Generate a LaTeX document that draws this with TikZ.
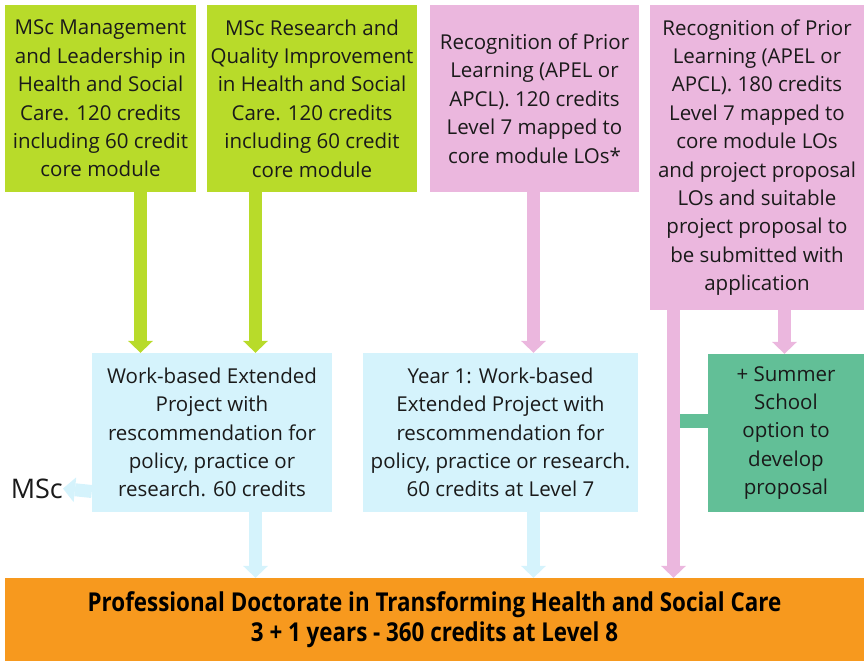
\documentclass[tikz,border=0pt]{standalone}
\usepackage{fontspec}
\setmainfont{Open Sans}
\newfontfamily\titlefont[FakeStretch=0.86]{Open Sans}
\usetikzlibrary{arrows.meta}
\definecolor{cGreen}{HTML}{B8DB2A}
\definecolor{cPink}{HTML}{EBB7DE}
\definecolor{cBlue}{HTML}{D5F3FC}
\definecolor{cTeal}{HTML}{62BF97}
\definecolor{cOrange}{HTML}{F7991E}
\definecolor{cText}{HTML}{1A1A1A}
\begin{document}
\begin{tikzpicture}[x=1pt,y=-1pt,
  box/.style={rectangle, inner sep=0pt, align=center, text=cText,
    font=\fontsize{20.5}{28.4}\selectfont},
  fat/.style={line width=13pt, -{Triangle[width=25pt,length=12pt,line width=0pt]}},
  garrow/.style={fat, draw=cGreen, color=cGreen},
  parrow/.style={fat, draw=cPink, color=cPink},
  barrow/.style={fat, draw=cBlue, color=cBlue}]
\useasboundingbox (0,0) rectangle (867,661);
\node[box, fill=cGreen, minimum width=191pt, minimum height=187pt] (g1) at (100.5,98.5)
  {MSc Management\\and Leadership in\\Health and Social\\Care. 120 credits\\including 60 credit\\core module};
\node[box, fill=cGreen, minimum width=210pt, minimum height=187pt] (g2) at (312,98.5)
  {MSc Research and\\Quality Improvement\\in Health and Social\\Care. 120 credits\\including 60 credit\\core module};
\node[box, fill=cPink, minimum width=209pt, minimum height=187pt] (p1) at (534.5,98.5)
  {Recognition of Prior\\Learning (APEL or\\APCL). 120 credits\\Level 7 mapped to\\core module LOs*};
\node[box, fill=cPink, minimum width=214pt, minimum height=305pt] (p2) at (757,157.5)
  {Recognition of Prior\\Learning (APEL or\\APCL). 180 credits\\Level 7 mapped to\\core module LOs\\and project proposal\\LOs and suitable\\project proposal to\\be submitted with\\application};
\node[box, fill=cBlue, minimum width=240pt, minimum height=159pt] (b1) at (212,432.5)
  {Work-based Extended\\Project with\\rescommendation for\\policy, practice or\\research. 60 credits};
\node[box, fill=cBlue, minimum width=275pt, minimum height=159pt] (b2) at (500.5,432.5)
  {Year 1: Work-based\\Extended Project with\\rescommendation for\\policy, practice or research.\\60 credits at Level 7};
\node[box, fill=cTeal, minimum width=156pt, minimum height=158pt] (s) at (786,433)
  {+ Summer\\School\\option to\\develop\\proposal};
\node[box, fill=cOrange, minimum width=859pt, minimum height=83pt,
  font=\titlefont\bfseries\fontsize{26}{30}\selectfont, text=black] (o) at (434.5,619.5)
  {Professional Doctorate in Transforming Health and Social Care\\3 + 1 years - 360 credits at Level 8};
\node[anchor=east, inner sep=0pt, text=cText, font=\fontsize{27}{30}\selectfont] (msc) at (63,488.5) {MSc};
% arrows
\draw[garrow] (g1.south -| 140.5,0) -- (b1.north -| 140.5,0);
\draw[garrow] (g2.south -| 255.5,0) -- (b1.north -| 255.5,0);
\draw[parrow] (p1.south -| 533.5,0) -- (b2.north -| 533.5,0);
\draw[parrow] (p2.south -| 784.5,0) -- (s.north -| 784.5,0);
\coordinate (shaft) at (673.5,420.5);
\draw[cTeal, line width=14pt] (s.west |- shaft) -- (shaft);
\draw[parrow] (p2.south -| 673.5,0) -- (o.north -| 673.5,0);
\draw[barrow] (b1.south -| 255.5,0) -- (o.north -| 255.5,0);
\draw[barrow] (b2.south -| 533.5,0) -- (o.north -| 533.5,0);
\draw[barrow] (b1.west |- 0,491.5) -- (msc.east);
\end{tikzpicture}
\end{document}
